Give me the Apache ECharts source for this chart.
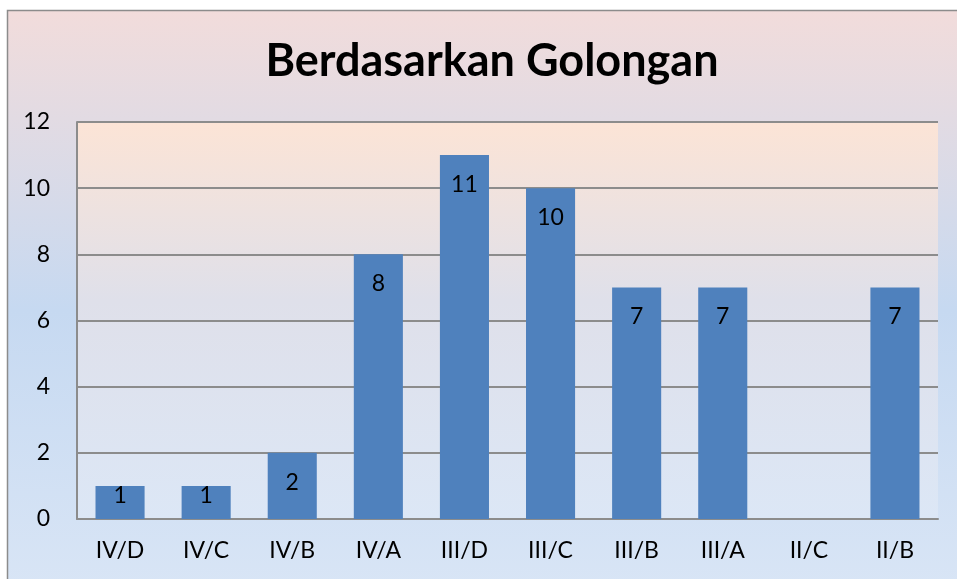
<!DOCTYPE html>
<html>
<head>
<meta charset="utf-8">
<script src="https://cdn.jsdelivr.net/npm/echarts@6/dist/echarts.min.js"></script>
<style>
  html, body { margin: 0; padding: 0; background: #fff; }
  #chart { width: 957px; height: 579px; }
</style>
</head>
<body>
<div id="chart"></div>
<script>
// data
const golongan = ['IV/D', 'IV/C', 'IV/B', 'IV/A', 'III/D', 'III/C', 'III/B', 'III/A', 'II/C', 'II/B']
const jumlah = [1, 1, 2, 8, 11, 10, 7, 7, 0, 7]
const yTicks = [0, 2, 4, 6, 8, 10, 12]

const chart = echarts.init(document.getElementById('chart'))

// short bars: label pushed up so it stays inside the bar (like Excel)
const barData = jumlah.map(v => v <= 1 ? { value: v, label: { distance: -2 } } : v)

chart.setOption({
  textStyle: { fontFamily: 'Lato' },
  graphic: [
    {
      // outer chart frame with gradient
      type: 'rect',
      z: -10,
      shape: { x: 7.5, y: 10.5, width: 970, height: 600 },
      style: {
        fill: new echarts.graphic.LinearGradient(0, 0, 0, 1, [
          { offset: 0, color: '#f2dcdb' },
          { offset: 0.5, color: '#c6d9f1' },
          { offset: 1, color: '#dae6f6' }
        ]),
        stroke: '#8c8c8c',
        lineWidth: 1.5
      }
    }
  ],
  title: {
    text: 'Berdasarkan Golongan',
    left: 487,
    textAlign: 'center',
    top: 34,
    textStyle: { fontSize: 45, fontWeight: 'bold', color: '#000', fontFamily: 'Lato' }
  },
  grid: {
    left: 77,
    top: 122,
    right: 19,
    bottom: 60,
    show: true,
    borderWidth: 0,
    backgroundColor: new echarts.graphic.LinearGradient(0, 0, 0, 1, [
      { offset: 0, color: '#fce4d6' },
      { offset: 0.45, color: '#dfe0ea' },
      { offset: 1, color: '#dce7f6' }
    ])
  },
  xAxis: {
    type: 'category',
    data: golongan,
    axisLine: { lineStyle: { color: '#8c8c8c', width: 2 } },
    axisTick: { show: false },
    axisLabel: { color: '#000', fontSize: 23, margin: 20, fontFamily: 'Lato' }
  },
  yAxis: {
    type: 'value',
    min: yTicks[0],
    max: yTicks[yTicks.length - 1],
    interval: 2,
    axisLine: { show: true, lineStyle: { color: '#8c8c8c', width: 2 } },
    axisTick: { show: false },
    axisLabel: { color: '#000', fontSize: 23, margin: 27, fontFamily: 'Lato' },
    splitLine: { lineStyle: { color: '#8c8c8c', width: 2 } }
  },
  series: [
    {
      type: 'bar',
      data: barData,
      barCategoryGap: '43%',
      itemStyle: { color: '#4f81bd' },
      label: {
        show: true,
        position: 'insideTop',
        distance: 18,
        color: '#000',
        fontSize: 23,
        fontFamily: 'Lato',
        formatter: p => (p.value === 0 ? '' : p.value)
      }
    }
  ]
})
</script>
</body>
</html>
